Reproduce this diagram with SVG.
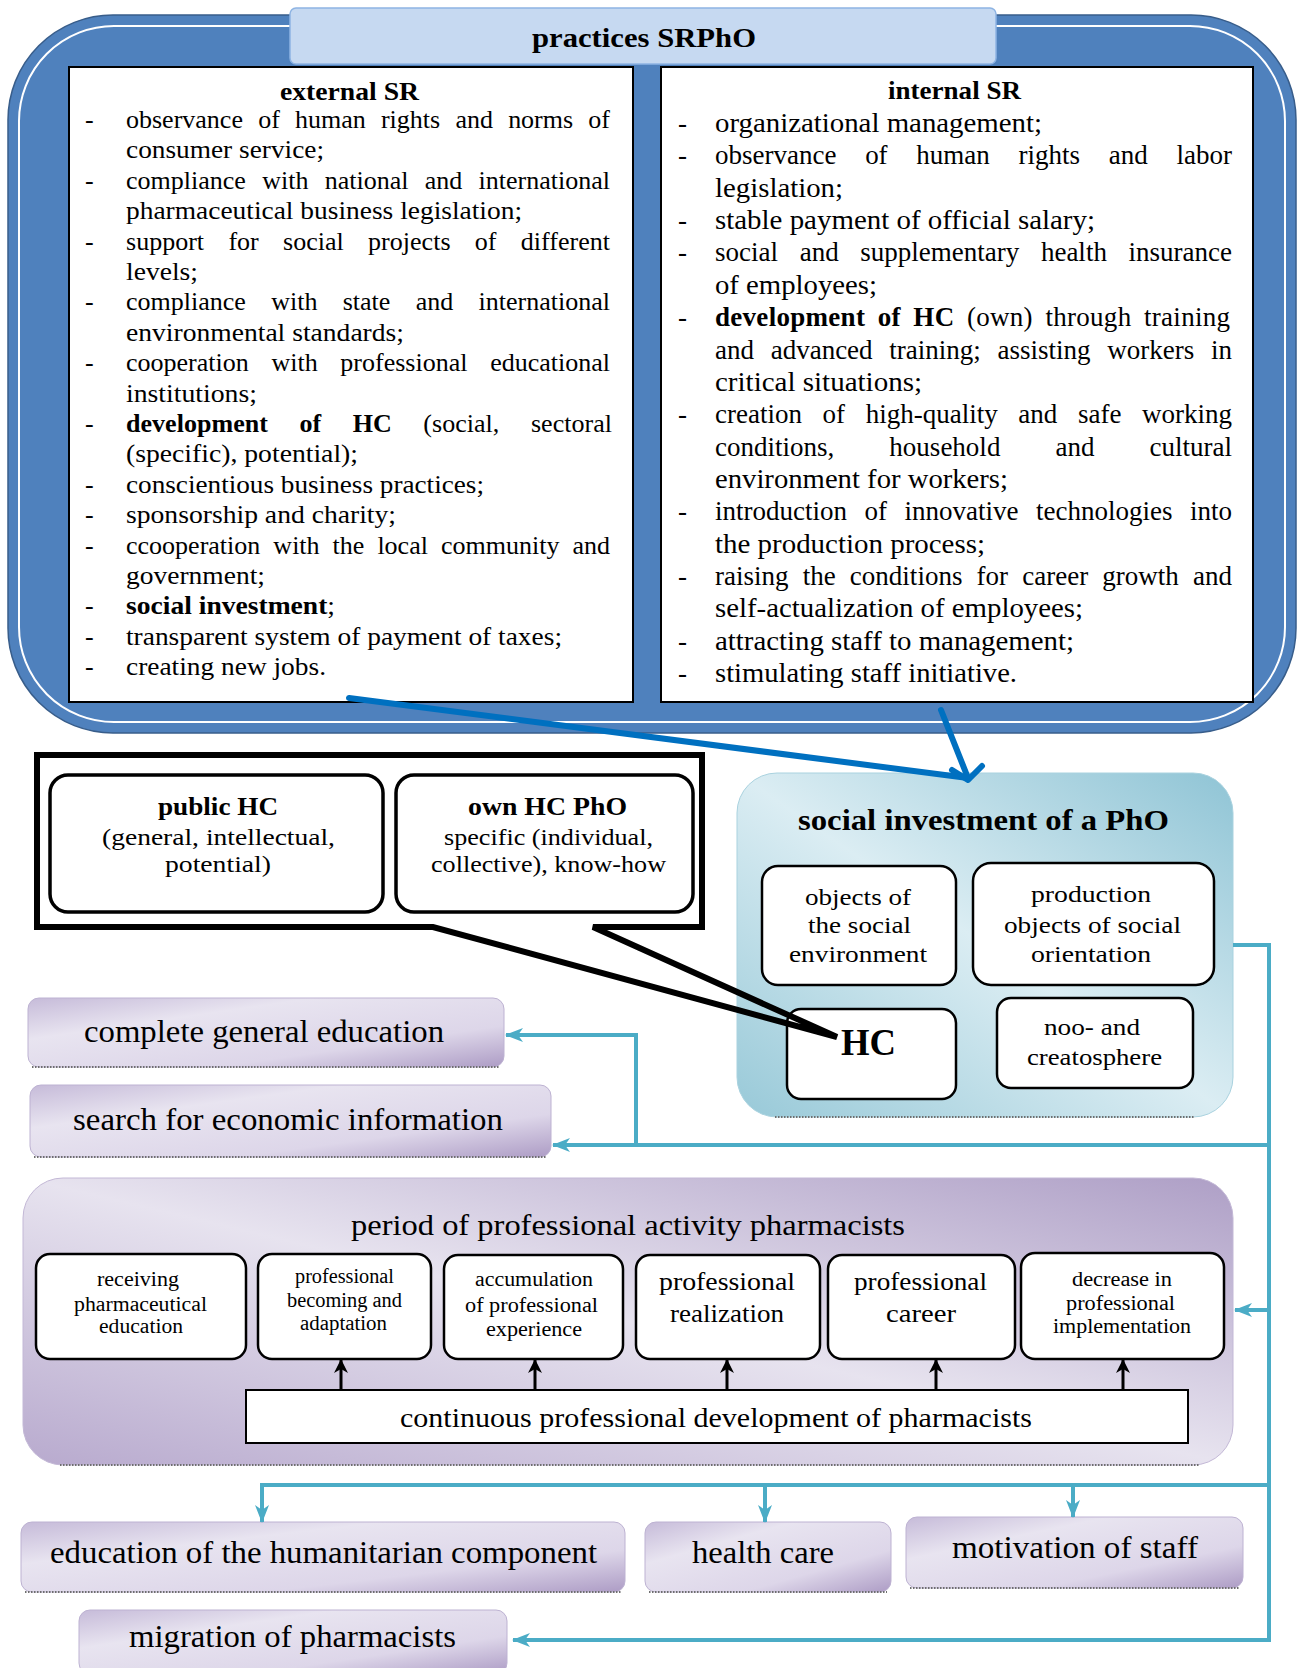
<svg xmlns="http://www.w3.org/2000/svg" width="1304" height="1668" viewBox="0 0 1304 1668">
<defs>
  <linearGradient id="sg" x1="1" y1="0" x2="0" y2="1">
    <stop offset="0" stop-color="#8fc4d5"/>
    <stop offset="0.5" stop-color="#dbedf3"/>
    <stop offset="1" stop-color="#98c9d8"/>
  </linearGradient>
  <linearGradient id="pg" x1="1" y1="0" x2="0" y2="1">
    <stop offset="0" stop-color="#ae9fc6"/>
    <stop offset="0.5" stop-color="#e7e3ef"/>
    <stop offset="1" stop-color="#b8aace"/>
  </linearGradient>
  <linearGradient id="pb" x1="0" y1="0" x2="1" y2="1">
    <stop offset="0" stop-color="#c6bbd9"/>
    <stop offset="0.3" stop-color="#e8e4f0"/>
    <stop offset="0.7" stop-color="#ddd6e9"/>
    <stop offset="1" stop-color="#ad9cc5"/>
  </linearGradient>
  <marker id="ta" markerUnits="userSpaceOnUse" markerWidth="18" markerHeight="16" refX="17" refY="8" orient="auto">
    <path d="M0,1 L18,8 L0,15 L5,8 Z" fill="#4bacc6"/>
  </marker>
  <marker id="ba" markerUnits="userSpaceOnUse" markerWidth="14" markerHeight="14" refX="13" refY="7" orient="auto">
    <path d="M0,0 L14,7 L0,14 L4,7 Z" fill="#000"/>
  </marker>
</defs>
<style>
  text { font-family: "Liberation Serif", "Times New Roman", serif; fill: #000; }
  .l { font-size: 26px; }
  .l2 { font-size: 27px; }
  .b { font-weight: bold; }
  .hdr { font-size: 26px; font-weight: bold; }
  .wbox { fill: #fff; stroke: #000; stroke-width: 2; }
  .rb { fill: #fff; stroke: #000; stroke-width: 2.5; }
  .pbox { fill: url(#pb); stroke: #bdb2d2; stroke-width: 1; }
  .dots { fill: none; stroke: #6f6f6f; stroke-width: 2; stroke-dasharray: 1.5 1.5; }
  .teal { fill: none; stroke: #4bacc6; stroke-width: 4; }
  .blue { fill: none; stroke: #0070c0; stroke-width: 6; stroke-linecap: round; stroke-linejoin: round; }
  .up { fill: none; stroke: #000; stroke-width: 3; }
  .pl { font-size: 32px; }
  .s20 { font-size: 20px; }
  .s24 { font-size: 24px; }
  .s25 { font-size: 25px; }
</style>
<rect x="0" y="0" width="1304" height="1668" fill="#fff"/>

<g id="practices">
  <rect x="8" y="15" width="1288" height="718" rx="105" fill="#4f81bd" stroke="#385d8a" stroke-width="1.5"/>
  <rect x="19" y="26" width="1266" height="696" rx="95" fill="none" stroke="#fff" stroke-width="2"/>
  <rect x="290" y="8" width="706" height="56" rx="6" fill="#c6d9f1" stroke="#8eb4e3" stroke-width="1.5"/>
  <text x="532" y="47" class="b" font-size="28" textLength="224" lengthAdjust="spacingAndGlyphs">practices SRPhO</text>
</g>

<g id="external-sr">
  <rect x="69" y="67" width="564" height="635" class="wbox"/>
  <text x="280" y="100" class="hdr" textLength="139" lengthAdjust="spacingAndGlyphs">external SR</text>
  <g class="l">
    <text x="85" y="128">-</text>
    <text x="126" y="128" word-spacing="8.7" textLength="484" lengthAdjust="spacing">observance of human rights and norms of</text>
    <text x="126" y="158.4" textLength="198" lengthAdjust="spacingAndGlyphs">consumer service;</text>
    <text x="85" y="188.8">-</text>
    <text x="126" y="188.8" word-spacing="9.8" textLength="484" lengthAdjust="spacing">compliance with national and international</text>
    <text x="126" y="219.2" textLength="396" lengthAdjust="spacingAndGlyphs">pharmaceutical business legislation;</text>
    <text x="85" y="249.6">-</text>
    <text x="126" y="249.6" word-spacing="17.8" textLength="484" lengthAdjust="spacing">support for social projects of different</text>
    <text x="126" y="280" textLength="72" lengthAdjust="spacingAndGlyphs">levels;</text>
    <text x="85" y="310.4">-</text>
    <text x="126" y="310.4" word-spacing="18.8" textLength="484" lengthAdjust="spacing">compliance with state and international</text>
    <text x="126" y="340.8" textLength="278" lengthAdjust="spacingAndGlyphs">environmental standards;</text>
    <text x="85" y="371.2">-</text>
    <text x="126" y="371.2" word-spacing="16.2" textLength="484" lengthAdjust="spacing">cooperation with professional educational</text>
    <text x="126" y="401.6" textLength="131" lengthAdjust="spacingAndGlyphs">institutions;</text>
    <text x="85" y="432">-</text>
    <text x="126" y="432" word-spacing="25" textLength="486" lengthAdjust="spacing"><tspan class="b">development of HC</tspan> (social, sectoral</text>
    <text x="126" y="462.4" textLength="232" lengthAdjust="spacingAndGlyphs">(specific), potential);</text>
    <text x="85" y="492.8">-</text>
    <text x="126" y="492.8" textLength="358" lengthAdjust="spacingAndGlyphs">conscientious business practices;</text>
    <text x="85" y="523.2">-</text>
    <text x="126" y="523.2" textLength="270" lengthAdjust="spacingAndGlyphs">sponsorship and charity;</text>
    <text x="85" y="553.6">-</text>
    <text x="126" y="553.6" word-spacing="6.5" textLength="484" lengthAdjust="spacing">ccooperation with the local community and</text>
    <text x="126" y="584" textLength="139" lengthAdjust="spacingAndGlyphs">government;</text>
    <text x="85" y="614.4">-</text>
    <text x="126" y="614.4" textLength="209" lengthAdjust="spacingAndGlyphs"><tspan class="b">social investment</tspan>;</text>
    <text x="85" y="644.8">-</text>
    <text x="126" y="644.8" textLength="436" lengthAdjust="spacingAndGlyphs">transparent system of payment of taxes;</text>
    <text x="85" y="675.2">-</text>
    <text x="126" y="675.2" textLength="200" lengthAdjust="spacingAndGlyphs">creating new jobs.</text>
  </g>
</g>

<g id="internal-sr">
  <rect x="661" y="67" width="592" height="635" class="wbox"/>
  <text x="888" y="99" class="hdr" textLength="133" lengthAdjust="spacingAndGlyphs">internal SR</text>
  <g class="l2">
    <text x="678" y="132">-</text>
    <text x="715" y="132" textLength="327" lengthAdjust="spacingAndGlyphs">organizational management;</text>
    <text x="678" y="164.4">-</text>
    <text x="715" y="164.4" word-spacing="22" textLength="517" lengthAdjust="spacing">observance of human rights and labor</text>
    <text x="715" y="196.7" textLength="128" lengthAdjust="spacingAndGlyphs">legislation;</text>
    <text x="678" y="229">-</text>
    <text x="715" y="229" textLength="380" lengthAdjust="spacingAndGlyphs">stable payment of official salary;</text>
    <text x="678" y="261.4">-</text>
    <text x="715" y="261.4" word-spacing="14.9" textLength="517" lengthAdjust="spacing">social and supplementary health insurance</text>
    <text x="715" y="293.8" textLength="162" lengthAdjust="spacingAndGlyphs">of employees;</text>
    <text x="678" y="326.1">-</text>
    <text x="715" y="326.1" word-spacing="5.5" textLength="515" lengthAdjust="spacing"><tspan class="b">development of HC</tspan> (own) through training</text>
    <text x="715" y="358.5" word-spacing="10" textLength="517" lengthAdjust="spacing">and advanced training; assisting workers in</text>
    <text x="715" y="390.8" textLength="207" lengthAdjust="spacingAndGlyphs">critical situations;</text>
    <text x="678" y="423.2">-</text>
    <text x="715" y="423.2" word-spacing="13.9" textLength="517" lengthAdjust="spacing">creation of high-quality and safe working</text>
    <text x="715" y="455.5" word-spacing="48.3" textLength="517" lengthAdjust="spacing">conditions, household and cultural</text>
    <text x="715" y="487.9" textLength="293" lengthAdjust="spacingAndGlyphs">environment for workers;</text>
    <text x="678" y="520.2">-</text>
    <text x="715" y="520.2" word-spacing="10.8" textLength="517" lengthAdjust="spacing">introduction of innovative technologies into</text>
    <text x="715" y="552.6" textLength="270" lengthAdjust="spacingAndGlyphs">the production process;</text>
    <text x="678" y="584.9">-</text>
    <text x="715" y="584.9" word-spacing="7.4" textLength="517" lengthAdjust="spacing">raising the conditions for career growth and</text>
    <text x="715" y="617.3" textLength="368" lengthAdjust="spacingAndGlyphs">self-actualization of employees;</text>
    <text x="678" y="649.6">-</text>
    <text x="715" y="649.6" textLength="359" lengthAdjust="spacingAndGlyphs">attracting staff to management;</text>
    <text x="678" y="682">-</text>
    <text x="715" y="682" textLength="302" lengthAdjust="spacingAndGlyphs">stimulating staff initiative.</text>
  </g>
</g>

<g id="social-investment">
  <rect x="737" y="773" width="496" height="344" rx="40" fill="url(#sg)" stroke="#a9d2df" stroke-width="1"/>
  <path d="M775,1117 H1195" class="dots"/>
  <text x="798" y="830" class="b" font-size="30" textLength="371" lengthAdjust="spacingAndGlyphs">social investment of a PhO</text>
  <g id="objects-social-env">
    <rect x="762" y="866" width="194" height="119" rx="16" class="rb"/>
    <text class="s24" x="805" y="905" textLength="106" lengthAdjust="spacingAndGlyphs">objects of</text>
    <text class="s24" x="808" y="933" textLength="103" lengthAdjust="spacingAndGlyphs">the social</text>
    <text class="s24" x="789" y="962" textLength="138" lengthAdjust="spacingAndGlyphs">environment</text>
  </g>
  <g id="production-objects">
    <rect x="973" y="863" width="241" height="122" rx="18" class="rb"/>
    <text class="s24" x="1031" y="902" textLength="120" lengthAdjust="spacingAndGlyphs">production</text>
    <text class="s24" x="1004" y="933" textLength="177" lengthAdjust="spacingAndGlyphs">objects of social</text>
    <text class="s24" x="1031" y="962" textLength="120" lengthAdjust="spacingAndGlyphs">orientation</text>
  </g>
  <g id="hc">
    <rect x="787" y="1009" width="169" height="90" rx="14" class="rb"/>
    <text class="b" font-size="38" x="841" y="1055" textLength="55" lengthAdjust="spacingAndGlyphs">HC</text>
  </g>
  <g id="noo-creatosphere">
    <rect x="997" y="998" width="196" height="90" rx="14" class="rb"/>
    <text class="s24" x="1044" y="1035" textLength="96" lengthAdjust="spacingAndGlyphs">noo- and</text>
    <text class="s24" x="1027" y="1065" textLength="135" lengthAdjust="spacingAndGlyphs">creatosphere</text>
  </g>
</g>

<g id="hc-callout">
  <rect x="37" y="755" width="665" height="172" fill="#fff"/>
  <path d="M433,927 H37 V755 H702 V927 H593 L837,1037 Z" fill="none" stroke="#000" stroke-width="6" stroke-linejoin="miter"/>
  <g id="public-hc">
    <rect x="50" y="775" width="333" height="137" rx="18" fill="#fff" stroke="#000" stroke-width="3.5"/>
    <text class="b" font-size="25" x="158" y="815" textLength="120" lengthAdjust="spacingAndGlyphs">public HC</text>
    <text class="s24" x="102" y="845" textLength="233" lengthAdjust="spacingAndGlyphs">(general, intellectual,</text>
    <text class="s24" x="165" y="872" textLength="106" lengthAdjust="spacingAndGlyphs">potential)</text>
  </g>
  <g id="own-hc">
    <rect x="396" y="775" width="297" height="137" rx="18" fill="#fff" stroke="#000" stroke-width="3.5"/>
    <text class="b" font-size="25" x="468" y="815" textLength="159" lengthAdjust="spacingAndGlyphs">own HC PhO</text>
    <text class="s24" x="444" y="845" textLength="209" lengthAdjust="spacingAndGlyphs">specific (individual,</text>
    <text class="s24" x="431" y="872" textLength="235" lengthAdjust="spacingAndGlyphs">collective), know-how</text>
  </g>
</g>

<g id="complete-general-education">
  <rect x="28" y="998" width="476" height="69" rx="11" class="pbox"/>
  <path d="M32,1067 H500" class="dots"/>
  <text class="pl" x="84" y="1042" textLength="360" lengthAdjust="spacingAndGlyphs">complete general education</text>
</g>
<g id="search-economic-information">
  <rect x="30" y="1085" width="521" height="72" rx="11" class="pbox"/>
  <path d="M34,1157 H547" class="dots"/>
  <text class="pl" x="73" y="1130" textLength="430" lengthAdjust="spacingAndGlyphs">search for economic information</text>
</g>

<g id="professional-activity">
  <rect x="23" y="1178" width="1210" height="287" rx="40" fill="url(#pg)" stroke="#c3b8d6" stroke-width="1"/>
  <path d="M60,1465 H1200" class="dots"/>
  <text font-size="30" x="351" y="1235" textLength="554" lengthAdjust="spacingAndGlyphs">period of professional activity pharmacists</text>
  <g id="stage-education">
    <rect x="36" y="1254" width="210" height="105" rx="14" class="rb"/>
    <text class="s20" x="97" y="1286" textLength="82" lengthAdjust="spacingAndGlyphs">receiving</text>
    <text class="s20" x="74" y="1311" textLength="133" lengthAdjust="spacingAndGlyphs">pharmaceutical</text>
    <text class="s20" x="99" y="1333" textLength="84" lengthAdjust="spacingAndGlyphs">education</text>
  </g>
  <g id="stage-becoming">
    <rect x="258" y="1254" width="173" height="105" rx="14" class="rb"/>
    <text class="s20" x="295" y="1283" textLength="99" lengthAdjust="spacingAndGlyphs">professional</text>
    <text class="s20" x="287" y="1307" textLength="115" lengthAdjust="spacingAndGlyphs">becoming and</text>
    <text class="s20" x="300" y="1330" textLength="87" lengthAdjust="spacingAndGlyphs">adaptation</text>
  </g>
  <g id="stage-accumulation">
    <rect x="444" y="1255" width="179" height="104" rx="14" class="rb"/>
    <text class="s20" x="475" y="1286" textLength="118" lengthAdjust="spacingAndGlyphs">accumulation</text>
    <text class="s20" x="465" y="1312" textLength="133" lengthAdjust="spacingAndGlyphs">of professional</text>
    <text class="s20" x="486" y="1336" textLength="96" lengthAdjust="spacingAndGlyphs">experience</text>
  </g>
  <g id="stage-realization">
    <rect x="636" y="1255" width="184" height="104" rx="14" class="rb"/>
    <text class="s25" x="659" y="1290" textLength="136" lengthAdjust="spacingAndGlyphs">professional</text>
    <text class="s25" x="670" y="1322" textLength="114" lengthAdjust="spacingAndGlyphs">realization</text>
  </g>
  <g id="stage-career">
    <rect x="828" y="1255" width="187" height="104" rx="14" class="rb"/>
    <text class="s25" x="854" y="1290" textLength="133" lengthAdjust="spacingAndGlyphs">professional</text>
    <text class="s25" x="886" y="1322" textLength="70" lengthAdjust="spacingAndGlyphs">career</text>
  </g>
  <g id="stage-decrease">
    <rect x="1021" y="1253" width="203" height="106" rx="14" class="rb"/>
    <text class="s20" x="1072" y="1286" textLength="100" lengthAdjust="spacingAndGlyphs">decrease in</text>
    <text class="s20" x="1066" y="1310" textLength="109" lengthAdjust="spacingAndGlyphs">professional</text>
    <text class="s20" x="1053" y="1333" textLength="138" lengthAdjust="spacingAndGlyphs">implementation</text>
  </g>
  <g id="continuous-development">
    <rect x="246" y="1390" width="942" height="53" fill="#fff" stroke="#000" stroke-width="2"/>
    <text font-size="28" x="400" y="1427" textLength="632" lengthAdjust="spacingAndGlyphs">continuous professional development of pharmacists</text>
  </g>
</g>

<g id="education-humanitarian">
  <rect x="21" y="1522" width="604" height="70" rx="11" class="pbox"/>
  <path d="M25,1592 H621" class="dots"/>
  <text class="pl" x="50" y="1563" textLength="547" lengthAdjust="spacingAndGlyphs">education of the humanitarian component</text>
</g>
<g id="health-care">
  <rect x="645" y="1522" width="246" height="70" rx="11" class="pbox"/>
  <path d="M649,1592 H887" class="dots"/>
  <text class="pl" x="692" y="1563" textLength="142" lengthAdjust="spacingAndGlyphs">health care</text>
</g>
<g id="motivation-staff">
  <rect x="906" y="1517" width="337" height="71" rx="11" class="pbox"/>
  <path d="M910,1588 H1239" class="dots"/>
  <text class="pl" x="952" y="1558" textLength="246" lengthAdjust="spacingAndGlyphs">motivation of staff</text>
</g>
<g id="migration-pharmacists">
  <rect x="79" y="1610" width="428" height="64" rx="11" class="pbox"/>
  <text class="pl" x="129" y="1647" textLength="327" lengthAdjust="spacingAndGlyphs">migration of pharmacists</text>
</g>

<g id="connectors">
  <path class="blue" d="M349,698 L968,778"/>
  <path class="blue" d="M941,710 L968,778"/>
  <path class="blue" d="M952,770 L968,780 L982,766" stroke-width="7"/>
  <path class="teal" d="M1233,945 H1269 V1640 H513" marker-end="url(#ta)"/>
  <path class="teal" d="M1269,1145 H553" marker-end="url(#ta)"/>
  <path class="teal" d="M636,1145 V1035 H506" marker-end="url(#ta)"/>
  <path class="teal" d="M1269,1310 H1235" marker-end="url(#ta)"/>
  <path class="teal" d="M1269,1485 H262 V1522" marker-end="url(#ta)"/>
  <path class="teal" d="M765,1485 V1522" marker-end="url(#ta)"/>
  <path class="teal" d="M1073,1485 V1517" marker-end="url(#ta)"/>
  <path class="up" d="M341,1390 V1360" marker-end="url(#ba)"/>
  <path class="up" d="M535,1390 V1360" marker-end="url(#ba)"/>
  <path class="up" d="M727,1390 V1360" marker-end="url(#ba)"/>
  <path class="up" d="M936,1390 V1360" marker-end="url(#ba)"/>
  <path class="up" d="M1123,1390 V1360" marker-end="url(#ba)"/>
</g>
</svg>
